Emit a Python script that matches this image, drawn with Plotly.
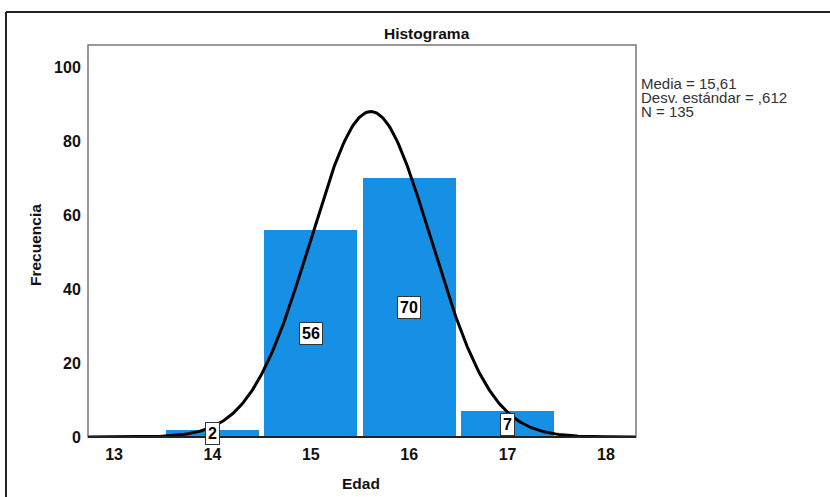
import numpy as np
import plotly.graph_objects as go

# Data
categories = [14, 15, 16, 17]
counts = [2, 56, 70, 7]
mean_val = 15.61
sd_val = 0.612
n_val = 135
stat_lines = ["Media = 15,61", "Desv. estándar = ,612", "N = 135"]
x_ticks = [13, 14, 15, 16, 17, 18]
y_ticks = [0, 20, 40, 60, 80, 100]

W, H = 830, 497
L, R, T, B = 88, 636, 45, 437
pw, ph = R - L, B - T

def px(x):
    return (x - L) / pw

def py(y):
    return (B - y) / ph

x_range = [12.735, 18.305]
y_range = [0, 106]

# Normal curve from displayed statistics (bin width 1)
xc = np.linspace(x_range[0], x_range[1], 400)
yc = n_val * 1.0 / (sd_val * np.sqrt(2 * np.pi)) * np.exp(-0.5 * ((xc - mean_val) / sd_val) ** 2)

FONT = "Arial"
fig = go.Figure()
fig.add_trace(go.Bar(x=categories, y=counts, width=0.945,
                     marker=dict(color="#1690e4", line=dict(width=0)),
                     hoverinfo="skip"))
fig.add_trace(go.Scatter(x=xc, y=yc, mode="lines",
                         line=dict(color="black", width=3), hoverinfo="skip"))

annotations = []
for c, v in zip(categories, counts):
    annotations.append(dict(x=c, y=v / 2, xref="x", yref="y", text=str(v),
                            showarrow=False, bgcolor="white", bordercolor="#333",
                            borderwidth=1, borderpad=2,
                            font=dict(family=FONT, size=16, color="black", weight="bold")))
for i, s in enumerate(stat_lines):
    annotations.append(dict(x=px(639), y=py(83.5 + i * 14), xref="paper", yref="paper",
                            text=s, showarrow=False, xanchor="left", yanchor="middle",
                            font=dict(family=FONT, size=15, color="#333")))
annotations.append(dict(x=px(427), y=py(33), xref="paper", yref="paper", text="<b>Histograma</b>",
                        showarrow=False, xanchor="center", yanchor="middle",
                        font=dict(family=FONT, size=15.5, color="#111")))
annotations.append(dict(x=px(361), y=py(483), xref="paper", yref="paper", text="<b>Edad</b>",
                        showarrow=False, xanchor="center", yanchor="middle",
                        font=dict(family=FONT, size=15.5, color="#111")))
annotations.append(dict(x=px(35), y=py(245), xref="paper", yref="paper", text="<b>Frecuencia</b>",
                        showarrow=False, xanchor="center", yanchor="middle", textangle=-90,
                        font=dict(family=FONT, size=15.5, color="#111")))

shapes = [
    # plot frame
    dict(type="rect", xref="paper", yref="paper", x0=0, x1=1, y0=0, y1=1,
         line=dict(color="#777", width=1.5), fillcolor="rgba(0,0,0,0)", layer="above"),
    # bottom axis darker
    dict(type="line", xref="paper", yref="paper", x0=0, x1=1, y0=0, y1=0,
         line=dict(color="#222", width=2), layer="above"),
    # outer frame
    dict(type="line", xref="paper", yref="paper", x0=px(6), x1=px(832), y0=py(12), y1=py(12),
         line=dict(color="#222", width=2)),
    dict(type="line", xref="paper", yref="paper", x0=px(6), x1=px(6), y0=py(12), y1=py(500),
         line=dict(color="#222", width=2)),
]

fig.update_layout(
    width=W, height=H,
    margin=dict(l=L, r=W - R, t=T, b=H - B, pad=0),
    paper_bgcolor="white", plot_bgcolor="white",
    showlegend=False, bargap=0,
    font=dict(family=FONT, size=15, color="#111"),
    annotations=annotations, shapes=shapes,
    xaxis=dict(range=x_range, tickvals=x_ticks, showgrid=False, zeroline=False,
               showline=False, ticks="outside", ticklen=3, tickcolor="rgba(0,0,0,0)",
               tickfont=dict(family=FONT, size=16, color="#111", weight="bold")),
    yaxis=dict(range=y_range, tickvals=y_ticks, showgrid=False, zeroline=False,
               showline=False, ticks="outside", ticklen=3, tickcolor="rgba(0,0,0,0)",
               tickfont=dict(family=FONT, size=16, color="#111", weight="bold")),
)

fig.write_html("out.html", config={"displayModeBar": False},
               post_script="document.body.style.margin='0';document.body.style.overflow='hidden';")
